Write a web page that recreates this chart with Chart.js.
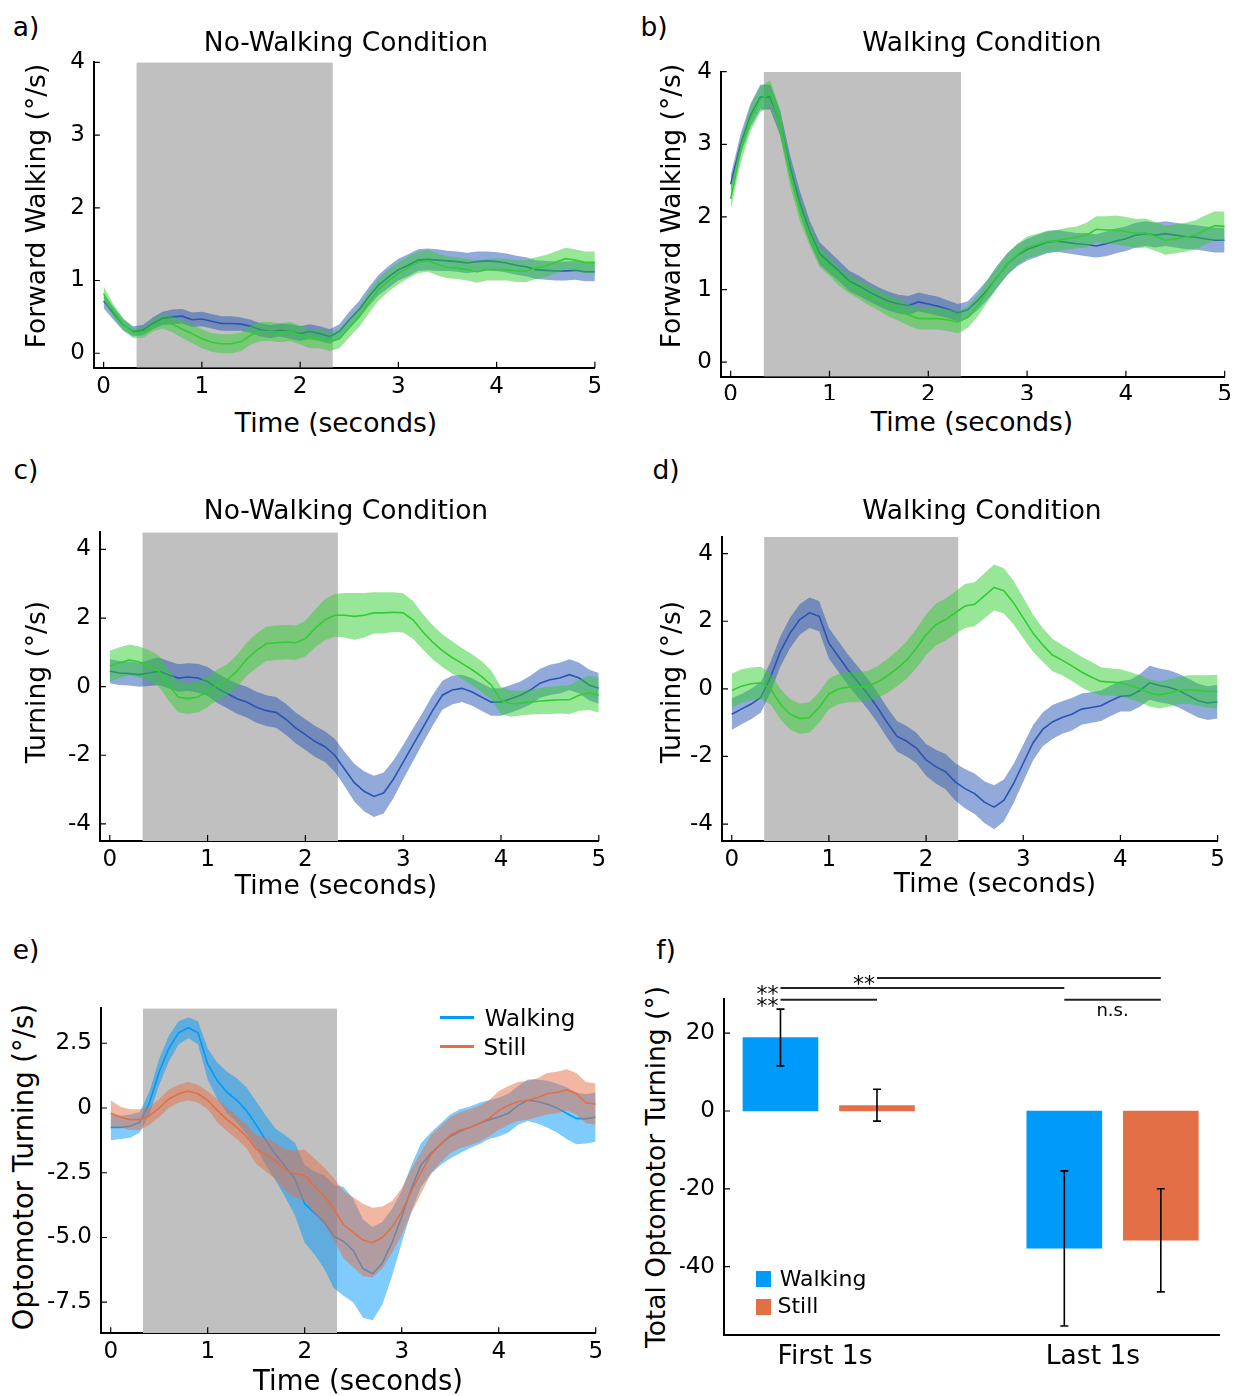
<!DOCTYPE html>
<html>
<head>
<meta charset="utf-8">
<script src="https://cdn.jsdelivr.net/npm/chart.js@4.4.1/dist/chart.umd.min.js"></script>
<style>
  body { margin: 0; background: #fff; width: 1236px; height: 1396px; position: relative; overflow: hidden;
         font-family: 'DejaVu Sans', sans-serif; color: #000; }
  canvas { position: absolute; }
  .lbl { position: absolute; white-space: nowrap; line-height: 1; transform: translate(-50%, -50%); }
  .rot { transform: translate(-50%, -50%) rotate(-90deg); }
  .sw { position: absolute; }
</style>
</head>
<body>
<script>
// ---- data ----
const time = [
  0, 0.1, 0.2, 0.3, 0.4, 0.5, 0.6, 0.7, 0.8, 0.9,
  1, 1.1, 1.2, 1.3, 1.4, 1.5, 1.6, 1.7, 1.8, 1.9,
  2, 2.1, 2.2, 2.3, 2.4, 2.5, 2.6, 2.7, 2.8, 2.9,
  3, 3.1, 3.2, 3.3, 3.4, 3.5, 3.6, 3.7, 3.8, 3.9,
  4, 4.1, 4.2, 4.3, 4.4, 4.5, 4.6, 4.7, 4.8, 4.9, 5
];
const stimWindow = [0.333, 2.333];
const timeTicks = [0, 1, 2, 3, 4, 5];
const timeTickLabels = ['0', '1', '2', '3', '4', '5'];

// a) forward walking, no-walking condition
const aBlue = [
  0.72, 0.55, 0.39, 0.30, 0.32, 0.41, 0.48, 0.50, 0.51, 0.46,
  0.47, 0.44, 0.41, 0.41, 0.40, 0.37, 0.32, 0.30, 0.32, 0.30,
  0.27, 0.30, 0.27, 0.23, 0.30, 0.46, 0.60, 0.78, 0.94, 1.05,
  1.15, 1.21, 1.28, 1.29, 1.28, 1.27, 1.26, 1.24, 1.26, 1.27,
  1.26, 1.24, 1.21, 1.19, 1.15, 1.14, 1.13, 1.13, 1.14, 1.12, 1.12
];
const aBlueSem = [
  0.10, 0.09, 0.08, 0.07, 0.07, 0.08, 0.09, 0.10, 0.10, 0.10,
  0.10, 0.10, 0.10, 0.10, 0.09, 0.09, 0.09, 0.09, 0.09, 0.10,
  0.10, 0.10, 0.10, 0.10, 0.10, 0.11, 0.12, 0.13, 0.14, 0.15,
  0.15, 0.15, 0.15, 0.15, 0.15, 0.14, 0.14, 0.14, 0.14, 0.13,
  0.13, 0.13, 0.13, 0.13, 0.13, 0.13, 0.13, 0.13, 0.13, 0.13, 0.13
];
const aGreen = [
  0.82, 0.58, 0.40, 0.28, 0.28, 0.38, 0.44, 0.40, 0.33, 0.27,
  0.20, 0.15, 0.13, 0.13, 0.16, 0.25, 0.30, 0.30, 0.28, 0.30,
  0.25, 0.20, 0.20, 0.16, 0.20, 0.35, 0.50, 0.70, 0.88, 1.00,
  1.10, 1.18, 1.25, 1.27, 1.22, 1.18, 1.17, 1.15, 1.12, 1.15,
  1.15, 1.15, 1.13, 1.13, 1.17, 1.20, 1.25, 1.30, 1.28, 1.25, 1.25
];
const aGreenSem = [
  0.10, 0.09, 0.08, 0.07, 0.07, 0.08, 0.10, 0.11, 0.12, 0.13,
  0.13, 0.13, 0.13, 0.13, 0.13, 0.13, 0.13, 0.13, 0.13, 0.13,
  0.13, 0.13, 0.13, 0.13, 0.13, 0.13, 0.14, 0.15, 0.15, 0.15,
  0.15, 0.15, 0.15, 0.15, 0.15, 0.15, 0.15, 0.15, 0.15, 0.15,
  0.15, 0.15, 0.15, 0.15, 0.15, 0.15, 0.15, 0.15, 0.15, 0.15, 0.15
];

// b) forward walking, walking condition
const bBlue = [
  2.45, 3.00, 3.40, 3.65, 3.65, 3.30, 2.70, 2.20, 1.80, 1.50,
  1.37, 1.25, 1.12, 1.05, 0.97, 0.90, 0.84, 0.80, 0.78, 0.83,
  0.80, 0.77, 0.73, 0.68, 0.72, 0.85, 1.00, 1.18, 1.35, 1.47,
  1.55, 1.60, 1.65, 1.67, 1.65, 1.63, 1.62, 1.60, 1.63, 1.67,
  1.70, 1.75, 1.77, 1.75, 1.77, 1.75, 1.73, 1.72, 1.70, 1.68, 1.68
];
const bBlueSem = [
  0.12, 0.14, 0.16, 0.17, 0.17, 0.17, 0.16, 0.16, 0.15, 0.15,
  0.15, 0.14, 0.14, 0.14, 0.13, 0.13, 0.13, 0.13, 0.13, 0.13,
  0.13, 0.13, 0.12, 0.12, 0.12, 0.13, 0.14, 0.15, 0.15, 0.15,
  0.15, 0.15, 0.15, 0.15, 0.15, 0.15, 0.16, 0.16, 0.17, 0.17,
  0.17, 0.17, 0.17, 0.17, 0.17, 0.17, 0.17, 0.17, 0.17, 0.17, 0.17
];
const bGreen = [
  2.25, 2.90, 3.35, 3.62, 3.70, 3.30, 2.60, 2.10, 1.75, 1.45,
  1.32, 1.18, 1.08, 1.00, 0.92, 0.85, 0.78, 0.72, 0.65, 0.60,
  0.60, 0.60, 0.58, 0.55, 0.62, 0.78, 0.98, 1.18, 1.35, 1.48,
  1.58, 1.62, 1.66, 1.67, 1.70, 1.72, 1.75, 1.83, 1.82, 1.82,
  1.80, 1.77, 1.78, 1.73, 1.68, 1.70, 1.72, 1.75, 1.82, 1.88, 1.87
];
const bGreenSem = [
  0.15, 0.16, 0.17, 0.18, 0.18, 0.18, 0.17, 0.16, 0.15, 0.14,
  0.13, 0.13, 0.13, 0.13, 0.14, 0.14, 0.15, 0.15, 0.15, 0.15,
  0.15, 0.15, 0.15, 0.15, 0.15, 0.15, 0.15, 0.15, 0.15, 0.15,
  0.15, 0.15, 0.15, 0.15, 0.15, 0.15, 0.17, 0.18, 0.19, 0.20,
  0.20, 0.20, 0.20, 0.20, 0.20, 0.20, 0.20, 0.20, 0.20, 0.20, 0.20
];

// c) turning, no-walking condition
const cBlue = [
  0.45, 0.40, 0.38, 0.35, 0.40, 0.45, 0.35, 0.25, 0.28, 0.25,
  0.15, -0.05, -0.20, -0.35, -0.45, -0.60, -0.70, -0.75, -0.95, -1.20,
  -1.40, -1.60, -1.75, -2.00, -2.40, -2.80, -3.05, -3.20, -3.10, -2.70,
  -2.20, -1.70, -1.20, -0.70, -0.25, -0.10, -0.05, -0.15, -0.30, -0.45,
  -0.45, -0.35, -0.25, -0.10, 0.10, 0.20, 0.25, 0.35, 0.25, 0.05, -0.05
];
const cBlueSem = [
  0.35, 0.35, 0.35, 0.35, 0.38, 0.40, 0.40, 0.40, 0.40, 0.42,
  0.42, 0.43, 0.43, 0.44, 0.45, 0.45, 0.45, 0.45, 0.45, 0.45,
  0.45, 0.45, 0.45, 0.48, 0.50, 0.55, 0.58, 0.60, 0.60, 0.55,
  0.50, 0.48, 0.45, 0.45, 0.42, 0.42, 0.40, 0.40, 0.40, 0.40,
  0.40, 0.40, 0.40, 0.42, 0.42, 0.44, 0.45, 0.45, 0.45, 0.45, 0.45
];
const cGreen = [
  0.60, 0.70, 0.78, 0.72, 0.62, 0.45, 0.05, -0.30, -0.35, -0.30,
  -0.15, 0.05, 0.20, 0.45, 0.80, 1.05, 1.25, 1.28, 1.30, 1.28,
  1.40, 1.70, 1.95, 2.08, 2.08, 2.05, 2.08, 2.15, 2.15, 2.17,
  2.15, 1.95, 1.60, 1.30, 1.05, 0.85, 0.68, 0.50, 0.30, 0.05,
  -0.40, -0.50, -0.48, -0.45, -0.42, -0.40, -0.38, -0.38, -0.25, -0.18, -0.25
];
const cGreenSem = [
  0.45, 0.45, 0.45, 0.45, 0.45, 0.45, 0.45, 0.45, 0.45, 0.45,
  0.45, 0.45, 0.45, 0.47, 0.48, 0.50, 0.50, 0.50, 0.50, 0.50,
  0.52, 0.55, 0.60, 0.62, 0.65, 0.68, 0.65, 0.60, 0.60, 0.58,
  0.57, 0.55, 0.52, 0.50, 0.48, 0.47, 0.45, 0.45, 0.45, 0.42,
  0.40, 0.38, 0.36, 0.36, 0.38, 0.40, 0.40, 0.42, 0.45, 0.50, 0.50
];

// d) turning, walking condition
const dBlue = [
  -0.75, -0.60, -0.45, -0.25, 0.35, 1.10, 1.65, 2.05, 2.25, 2.15,
  1.35, 0.95, 0.55, 0.20, -0.15, -0.55, -1.00, -1.40, -1.55, -1.75,
  -2.10, -2.30, -2.45, -2.75, -2.95, -3.10, -3.35, -3.50, -3.30, -2.80,
  -2.20, -1.60, -1.20, -0.98, -0.85, -0.75, -0.60, -0.55, -0.50, -0.35,
  -0.22, -0.20, -0.05, 0.18, 0.10, 0.05, -0.05, -0.20, -0.35, -0.42, -0.38
];
const dBlueSem = [
  0.47, 0.45, 0.45, 0.45, 0.45, 0.45, 0.45, 0.45, 0.45, 0.45,
  0.45, 0.45, 0.45, 0.45, 0.45, 0.45, 0.45, 0.45, 0.45, 0.45,
  0.47, 0.50, 0.52, 0.55, 0.58, 0.60, 0.62, 0.65, 0.62, 0.58,
  0.55, 0.52, 0.50, 0.50, 0.48, 0.48, 0.46, 0.45, 0.45, 0.45,
  0.45, 0.47, 0.48, 0.50, 0.50, 0.50, 0.50, 0.50, 0.50, 0.50, 0.50
];
const dGreen = [
  -0.05, 0.08, 0.15, 0.18, 0.00, -0.45, -0.75, -0.88, -0.85, -0.55,
  -0.15, 0.00, 0.05, 0.05, 0.08, 0.20, 0.38, 0.60, 0.85, 1.20,
  1.60, 1.90, 2.05, 2.25, 2.45, 2.50, 2.75, 3.00, 2.90, 2.55,
  2.10, 1.65, 1.30, 1.00, 0.85, 0.68, 0.50, 0.35, 0.22, 0.20,
  0.18, 0.10, 0.00, -0.12, -0.18, -0.12, -0.05, -0.02, -0.05, -0.08, -0.08
];
const dGreenSem = [
  0.50, 0.50, 0.48, 0.47, 0.46, 0.45, 0.45, 0.45, 0.45, 0.45,
  0.45, 0.45, 0.45, 0.45, 0.45, 0.47, 0.50, 0.52, 0.55, 0.58,
  0.60, 0.62, 0.62, 0.63, 0.65, 0.65, 0.67, 0.68, 0.67, 0.65,
  0.60, 0.55, 0.50, 0.48, 0.45, 0.45, 0.45, 0.45, 0.42, 0.40,
  0.40, 0.40, 0.40, 0.40, 0.40, 0.40, 0.40, 0.42, 0.45, 0.48, 0.50
];

// e) optomotor turning, walking vs still
const eWalk = [
  -0.75, -0.75, -0.70, -0.55, 0.20, 1.40, 2.30, 2.90, 3.10, 2.90,
  1.70, 1.05, 0.60, 0.30, -0.10, -0.65, -1.25, -1.80, -2.25, -2.75,
  -3.70, -4.05, -4.40, -4.95, -5.15, -5.50, -6.20, -6.40, -6.00, -5.20,
  -4.20, -3.10, -2.20, -1.75, -1.40, -1.10, -0.90, -0.75, -0.60, -0.45,
  -0.35, -0.20, 0.10, 0.30, 0.25, 0.15, 0.00, -0.20, -0.40, -0.42, -0.35
];
const eWalkSem = [
  0.50, 0.45, 0.45, 0.40, 0.45, 0.50, 0.50, 0.45, 0.40, 0.45,
  0.60, 0.70, 0.80, 0.85, 0.90, 0.90, 0.95, 1.00, 1.20, 1.40,
  1.50, 1.60, 1.80, 2.00, 2.10, 2.00, 1.90, 1.80, 1.60, 1.30,
  1.00, 0.90, 0.85, 0.80, 0.80, 0.85, 0.85, 0.80, 0.80, 0.75,
  0.75, 0.75, 0.75, 0.80, 0.85, 0.90, 0.95, 1.00, 1.00, 0.95, 0.95
];
const eStill = [
  -0.20, -0.35, -0.45, -0.45, -0.30, 0.00, 0.35, 0.55, 0.65, 0.55,
  0.30, -0.10, -0.45, -0.75, -1.10, -1.60, -1.80, -2.05, -2.40, -2.55,
  -2.60, -3.00, -3.40, -3.90, -4.50, -4.80, -5.10, -5.20, -5.00, -4.60,
  -4.00, -3.20, -2.50, -1.80, -1.40, -1.05, -0.85, -0.75, -0.60, -0.40,
  -0.10, 0.10, 0.25, 0.30, 0.40, 0.55, 0.60, 0.70, 0.55, 0.20, 0.15
];
const eStillSem = [
  0.50, 0.40, 0.40, 0.40, 0.35, 0.35, 0.35, 0.35, 0.35, 0.35,
  0.35, 0.45, 0.45, 0.45, 0.45, 0.55, 0.65, 0.70, 0.80, 0.90,
  1.00, 1.05, 1.10, 1.20, 1.30, 1.35, 1.40, 1.35, 1.20, 1.00,
  0.90, 0.85, 0.80, 0.75, 0.70, 0.70, 0.70, 0.70, 0.70, 0.70,
  0.75, 0.75, 0.75, 0.75, 0.75, 0.80, 0.80, 0.80, 0.80, 0.80, 0.80
];

// f) total optomotor turning
const fGroups = ['First 1s', 'Last 1s'];
const fGroupX = [1, 2];
const fTickX = [0.987, 1.931];
const fWalking = [18.9, -35.3];
const fWalkingLo = [11.6, -55.3];
const fWalkingHi = [26.2, -15.4];
const fStill = [1.4, -33.2];
const fStillLo = [-2.6, -46.5];
const fStillHi = [5.6, -20.0];
const fSigLevels = [28.6, 31.6, 34.2, 28.6];
const fSigText = ['**', '**', '**', 'n.s.'];

// ---- styles / layout ----
const BLUE_LINE = '#2a55b3', BLUE_BAND = 'rgba(35,85,180,0.5)';
const GREEN_LINE = '#32cd32', GREEN_BAND = 'rgba(50,205,50,0.5)';
const WALK = '#009afa', WALK_BAND = 'rgba(0,154,250,0.5)';
const STILL = '#e36f47', STILL_BAND = 'rgba(227,111,71,0.5)';
const GRAY = '#c0c0c0';
const TICK_FONT = 23;
const LABEL_FONT = 26.5;

Chart.defaults.font.family = "'DejaVu Sans', sans-serif";
Chart.defaults.color = '#000';
Chart.defaults.animation = false;

function addText(txt, x, y, size, rot) {
  const d = document.createElement('div');
  d.className = 'lbl' + (rot ? ' rot' : '');
  d.textContent = txt;
  d.style.left = x + 'px';
  d.style.top = y + 'px';
  d.style.fontSize = size + 'px';
  document.body.appendChild(d);
}

function swatch(x, y, w, h, color) {
  const d = document.createElement('div');
  d.className = 'sw';
  d.style.left = x + 'px'; d.style.top = y + 'px';
  d.style.width = w + 'px'; d.style.height = h + 'px';
  d.style.background = color;
  document.body.appendChild(d);
}

function makeCanvas(box) {
  const cv = document.createElement('canvas');
  cv.width = box.w;
  cv.height = box.h;
  cv.style.left = box.x + 'px';
  cv.style.top = box.y + 'px';
  document.body.appendChild(cv);
  return cv;
}

// small tick marks pointing into the plot
function inwardTicks(drawX) {
  return {
    id: 'inwardTicks',
    afterDraw(chart) {
      const { ctx, chartArea: ca, scales } = chart;
      ctx.save();
      ctx.strokeStyle = '#000';
      ctx.lineWidth = 1.2;
      ctx.beginPath();
      scales.y.ticks.forEach(t => {
        const p = scales.y.getPixelForValue(t.value);
        ctx.moveTo(ca.left, p); ctx.lineTo(ca.left + 6, p);
      });
      if (drawX) {
        scales.x.ticks.forEach(t => {
          const p = scales.x.getPixelForValue(t.value);
          ctx.moveTo(p, ca.bottom); ctx.lineTo(p, ca.bottom - 6);
        });
      }
      ctx.stroke();
      ctx.restore();
    }
  };
}

function xScale(min, max, vals, names, L, size, pad) {
  return {
    type: 'linear', min: min, max: max, offset: false,
    afterBuildTicks: s => { s.ticks = vals.map(v => ({ value: v })); },
    afterFit: s => { s.height = L.box.y + L.box.h - L.area.b; s.paddingLeft = 0; s.paddingRight = 0; },
    ticks: { autoSkip: false, maxRotation: 0, minRotation: 0, padding: pad, color: '#000',
             font: { size: size }, callback: (v, i) => names[i] },
    grid: { display: false, drawTicks: false },
    border: { display: true, color: '#000', width: 2 }
  };
}

function yScale(min, max, vals, names, L) {
  return {
    min: min, max: max,
    afterBuildTicks: s => { s.ticks = vals.map(v => ({ value: v })); },
    afterFit: s => { s.width = L.area.l - L.box.x; s.paddingTop = 0; s.paddingBottom = 0; },
    ticks: { autoSkip: false, padding: 9, color: '#000', font: { size: TICK_FONT }, callback: (v, i) => names[i] },
    grid: { display: false, drawTicks: false },
    border: { display: true, color: '#000', width: 2 }
  };
}

function padding(L) {
  return { left: 0, bottom: 0, top: L.area.t - L.box.y, right: L.box.x + L.box.w - L.area.r };
}

function timePanel(L, yMin, yMax, yTicks, yNames, series) {
  const datasets = [];
  // stimulus period shading
  datasets.push({
    data: stimWindow.map(t => ({ x: t, y: yMax })),
    fill: 'start', backgroundColor: GRAY, borderWidth: 0, pointRadius: 0, order: 20
  });
  series.forEach((s, k) => {
    datasets.push({
      data: time.map((t, i) => ({ x: t, y: s.mean[i] - s.sem[i] })),
      fill: false, borderWidth: 0, pointRadius: 0, order: 19 - 2 * k
    });
    datasets.push({
      data: time.map((t, i) => ({ x: t, y: s.mean[i] + s.sem[i] })),
      fill: '-1', backgroundColor: s.band, borderWidth: 0, pointRadius: 0, order: 19 - 2 * k
    });
    datasets.push({
      data: time.map((t, i) => ({ x: t, y: s.mean[i] })),
      fill: false, borderColor: s.line, borderWidth: 1.6, pointRadius: 0, order: 18 - 2 * k
    });
  });
  new Chart(makeCanvas(L.box), {
    type: 'line',
    data: { datasets: datasets },
    options: {
      responsive: false,
      animation: false,
      layout: { padding: padding(L) },
      plugins: { legend: { display: false }, tooltip: { enabled: false } },
      scales: {
        x: xScale(-0.1, 5, timeTicks, timeTickLabels, L, TICK_FONT, 5),
        y: yScale(yMin, yMax, yTicks, yNames, L)
      }
    },
    plugins: [inwardTicks(true)]
  });
}

const layout = {
  a: { box: { x: 40, y: 50, w: 575, h: 350 }, area: { l: 93.8, t: 62.3, r: 594.9, b: 367.8 } },
  b: { box: { x: 665, y: 55, w: 571, h: 345 }, area: { l: 720.8, t: 71.7, r: 1224.7, b: 376.7 } },
  c: { box: { x: 40, y: 515, w: 580, h: 360 }, area: { l: 100, t: 532.3, r: 598.8, b: 841 } },
  d: { box: { x: 665, y: 520, w: 571, h: 355 }, area: { l: 722, t: 536.7, r: 1217.6, b: 841 } },
  e: { box: { x: 40, y: 990, w: 580, h: 375 }, area: { l: 101, t: 1008.3, r: 595.7, b: 1333.3 } },
  f: { box: { x: 680, y: 960, w: 556, h: 436 }, area: { l: 724, t: 999, r: 1219, b: 1335 } }
};

const walkTicks = [0, 1, 2, 3, 4], walkNames = ['0', '1', '2', '3', '4'];
const turnTicks = [-4, -2, 0, 2, 4], turnNames = ['-4', '-2', '0', '2', '4'];
const optoTicks = [-7.5, -5, -2.5, 0, 2.5], optoNames = ['-7.5', '-5.0', '-2.5', '0', '2.5'];
const totalTicks = [-40, -20, 0, 20], totalNames = ['-40', '-20', '0', '20'];

timePanel(layout.a, -0.2, 4, walkTicks, walkNames, [
  { mean: aBlue, sem: aBlueSem, line: BLUE_LINE, band: BLUE_BAND },
  { mean: aGreen, sem: aGreenSem, line: GREEN_LINE, band: GREEN_BAND }
]);
timePanel(layout.b, -0.2, 4, walkTicks, walkNames, [
  { mean: bBlue, sem: bBlueSem, line: BLUE_LINE, band: BLUE_BAND },
  { mean: bGreen, sem: bGreenSem, line: GREEN_LINE, band: GREEN_BAND }
]);
timePanel(layout.c, -4.5, 4.5, turnTicks, turnNames, [
  { mean: cBlue, sem: cBlueSem, line: BLUE_LINE, band: BLUE_BAND },
  { mean: cGreen, sem: cGreenSem, line: GREEN_LINE, band: GREEN_BAND }
]);
timePanel(layout.d, -4.5, 4.5, turnTicks, turnNames, [
  { mean: dBlue, sem: dBlueSem, line: BLUE_LINE, band: BLUE_BAND },
  { mean: dGreen, sem: dGreenSem, line: GREEN_LINE, band: GREEN_BAND }
]);
timePanel(layout.e, -8.7, 3.85, optoTicks, optoNames, [
  { mean: eWalk, sem: eWalkSem, line: WALK, band: WALK_BAND },
  { mean: eStill, sem: eStillSem, line: STILL, band: STILL_BAND }
]);

// panel f: bars, error bars and significance brackets
const fOffset = 0.17;
const fErrors = [[fWalkingLo, fWalkingHi], [fStillLo, fStillHi]];
const fDecor = {
  id: 'fDecor',
  afterDatasetsDraw(chart) {
    const ctx = chart.ctx, ys = chart.scales.y;
    const barX = (ds, g) => chart.getDatasetMeta(ds).data[g].x;
    ctx.save();
    ctx.strokeStyle = '#000';
    ctx.lineWidth = 1.6;
    fErrors.forEach((pair, ds) => {
      pair[0].forEach((lo, g) => {
        const x = barX(ds, g), y0 = ys.getPixelForValue(lo), y1 = ys.getPixelForValue(pair[1][g]);
        ctx.beginPath();
        ctx.moveTo(x, y0); ctx.lineTo(x, y1);
        ctx.moveTo(x - 4, y0); ctx.lineTo(x + 4, y0);
        ctx.moveTo(x - 4, y1); ctx.lineTo(x + 4, y1);
        ctx.stroke();
      });
    });
    // brackets: [dataset, group] endpoints
    const pairs = [[[0, 0], [1, 0]], [[0, 0], [0, 1]], [[1, 0], [1, 1]], [[0, 1], [1, 1]]];
    ctx.strokeStyle = '#222';
    ctx.lineWidth = 2;
    pairs.forEach((p, k) => {
      const x0 = barX(p[0][0], p[0][1]), x1 = barX(p[1][0], p[1][1]);
      const y = ys.getPixelForValue(fSigLevels[k]);
      ctx.beginPath(); ctx.moveTo(x0, y); ctx.lineTo(x1, y); ctx.stroke();
      ctx.fillStyle = '#000';
      if (fSigText[k] === 'n.s.') {
        ctx.font = "18px 'DejaVu Sans'";
        ctx.textAlign = 'center'; ctx.textBaseline = 'alphabetic';
        ctx.fillText(fSigText[k], (x0 + x1) / 2, y + 16);
      } else {
        ctx.font = "22px 'DejaVu Sans'";
        ctx.textAlign = 'right'; ctx.textBaseline = 'alphabetic';
        ctx.fillText(fSigText[k], x0 - 2, y + 13);
      }
    });
    ctx.restore();
  }
};

new Chart(makeCanvas(layout.f.box), {
  type: 'bar',
  data: {
    datasets: [
      { label: 'Walking', data: fGroupX.map((g, i) => ({ x: g - fOffset, y: fWalking[i] })),
        backgroundColor: WALK, barThickness: 75, grouped: false },
      { label: 'Still', data: fGroupX.map((g, i) => ({ x: g + fOffset, y: fStill[i] })),
        backgroundColor: STILL, barThickness: 75, grouped: false }
    ]
  },
  options: {
    responsive: false,
    animation: false,
    layout: { padding: padding(layout.f) },
    plugins: { legend: { display: false }, tooltip: { enabled: false } },
    scales: {
      x: xScale(0.631, 2.375, fTickX, fGroups, layout.f, LABEL_FONT, 6),
      y: yScale(-57.6, 28.8, totalTicks, totalNames, layout.f)
    }
  },
  plugins: [inwardTicks(false), fDecor]
});

// ---- text: panel letters, titles, axis titles ----
addText('a)', 26, 27, LABEL_FONT); addText('b)', 654, 27, LABEL_FONT);
addText('c)', 26, 470, LABEL_FONT); addText('d)', 666, 470, LABEL_FONT);
addText('e)', 26, 950, LABEL_FONT); addText('f)', 666, 950, LABEL_FONT);

addText('No-Walking Condition', 346, 42, LABEL_FONT);
addText('Walking Condition', 982, 42, LABEL_FONT);
addText('No-Walking Condition', 346, 510, LABEL_FONT);
addText('Walking Condition', 982, 510, LABEL_FONT);

addText('Time (seconds)', 336, 423, LABEL_FONT);
addText('Time (seconds)', 972, 422, LABEL_FONT);
addText('Time (seconds)', 336, 885, LABEL_FONT);
addText('Time (seconds)', 995, 883, LABEL_FONT);
addText('Time (seconds)', 358, 1381, 27.5);

addText('Forward Walking (°/s)', 36, 206, LABEL_FONT, true);
addText('Forward Walking (°/s)', 671, 206, LABEL_FONT, true);
addText('Turning (°/s)', 36, 682, LABEL_FONT, true);
addText('Turning (°/s)', 671, 682, LABEL_FONT, true);
addText('Optomotor Turning (°/s)', 24, 1167, 27.5, true);
addText('Total Optomotor Turning (°)', 656, 1167, LABEL_FONT, true);

// legends
swatch(440, 1016, 34, 3, WALK); addText('Walking', 530, 1018, 23);
swatch(440, 1045, 34, 3, STILL); addText('Still', 505, 1047, 23);
swatch(756, 1271, 15, 16, WALK); addText('Walking', 823, 1279, 22);
swatch(756, 1299, 15, 16, STILL); addText('Still', 798, 1306, 22);
</script>
</body>
</html>
